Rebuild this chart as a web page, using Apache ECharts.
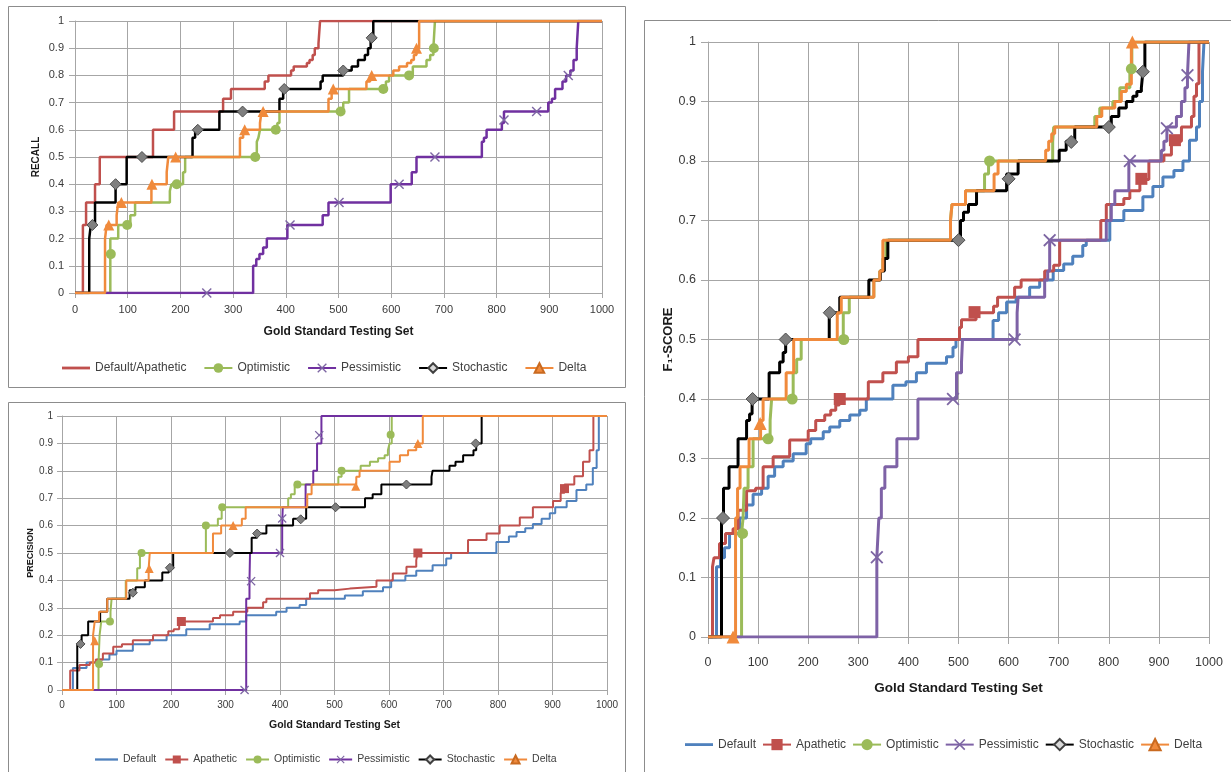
<!DOCTYPE html>
<html><head><meta charset="utf-8">
<script src="https://cdn.jsdelivr.net/npm/echarts@6/dist/echarts.min.js"></script>
<style>html,body{margin:0;padding:0;background:#fff}#c{width:1231px;height:772px}</style>
</head><body><div id="c"></div>
<script>
// ---------- tick labels ----------
const xTickValues = [0,100,200,300,400,500,600,700,800,900,1000];
const yTickLabels = ['0','0.1','0.2','0.3','0.4','0.5','0.6','0.7','0.8','0.9','1'];

// ---------- RECALL panel ([x, y] = at x the curve steps to y) ----------
const recallDefaultApathetic = [[0,0],[15,0.25],[21,0.333],[38,0.4],[47,0.5],[148,0.6],[188,0.667],[281,0.714],[296,0.75],[360,0.778],[367,0.8],[410,0.818],[415,0.833],[440,0.846],[445,0.857],[451,0.875],[455,0.9],[462,0.917],[465,1],[1000,1]];
const recallOptimistic = [[0,0],[67,0.2],[82,0.25],[105,0.286],[114,0.333],[180,0.375],[183,0.4],[205,0.444],[209,0.5],[345,0.556],[348,0.571],[351,0.6],[384,0.625],[388,0.667],[509,0.7],[520,0.75],[590,0.778],[596,0.8],[641,0.833],[667,0.857],[674,0.875],[680,0.9],[683,1],[1000,1]];
const recallOptimisticMarks = [[68,0.143],[99,0.25],[193,0.4],[342,0.5],[381,0.6],[504,0.667],[585,0.75],[634,0.8],[681,0.9]];
const recallPessimistic = [[0,0],[338,0.1],[344,0.125],[350,0.143],[357,0.167],[364,0.2],[403,0.25],[470,0.286],[481,0.333],[599,0.4],[639,0.444],[648,0.5],[772,0.556],[776,0.571],[781,0.6],[810,0.625],[814,0.667],[898,0.7],[905,0.714],[911,0.75],[925,0.778],[932,0.8],[940,0.818],[946,0.857],[952,0.9],[955,1],[1000,1]];
const recallPessimisticMarks = [[250,0],[408,0.25],[501,0.333],[615,0.4],[683,0.5],[814,0.636],[876,0.667],[936,0.8]];
const recallStochastic = [[0,0],[27,0.2],[30,0.25],[38,0.333],[77,0.4],[98,0.5],[223,0.571],[228,0.6],[274,0.667],[388,0.714],[395,0.75],[466,0.778],[470,0.8],[509,0.818],[525,0.833],[537,0.857],[550,0.875],[556,0.9],[561,0.938],[566,1],[1000,1]];
const recallStochasticMarks = [[33,0.25],[77,0.4],[127,0.5],[233,0.6],[318,0.667],[397,0.75],[509,0.818],[563,0.938]];
const recallDelta = [[0,0],[57,0.2],[60,0.25],[79,0.286],[82,0.333],[145,0.4],[174,0.444],[177,0.5],[313,0.571],[319,0.6],[351,0.625],[354,0.667],[481,0.714],[487,0.75],[553,0.778],[560,0.8],[604,0.818],[615,0.833],[630,0.846],[638,0.857],[643,0.875],[648,0.9],[653,1],[1000,1]];
const recallDeltaMarks = [[64,0.25],[88,0.333],[146,0.4],[191,0.5],[322,0.6],[357,0.667],[490,0.75],[563,0.8],[648,0.9]];

// ---------- PRECISION panel ----------
const precDefault = [[0,0],[20,0.08],[45,0.1],[65,0.111],[87,0.13],[100,0.143],[130,0.167],[161,0.182],[192,0.2],[228,0.222],[271,0.24],[326,0.25],[338,0.273],[393,0.286],[412,0.3],[436,0.31],[448,0.333],[519,0.345],[552,0.36],[589,0.375],[604,0.4],[630,0.417],[650,0.435],[680,0.455],[705,0.48],[714,0.5],[797,0.54],[820,0.56],[834,0.577],[850,0.59],[864,0.606],[880,0.625],[895,0.645],[905,0.667],[926,0.69],[944,0.73],[962,0.75],[974,0.81],[981,0.875],[985,1],[1000,1]];
const precApathetic = [[0,0],[15,0.071],[32,0.091],[51,0.1],[62,0.111],[75,0.133],[94,0.158],[110,0.167],[130,0.182],[167,0.2],[195,0.214],[205,0.222],[215,0.25],[277,0.263],[290,0.273],[314,0.286],[340,0.3],[369,0.32],[375,0.333],[455,0.353],[470,0.364],[500,0.37],[528,0.377],[577,0.4],[607,0.425],[632,0.45],[650,0.474],[653,0.5],[745,0.547],[779,0.571],[803,0.6],[840,0.63],[864,0.667],[901,0.69],[915,0.72],[922,0.75],[940,0.78],[956,0.833],[968,0.875],[975,1],[1000,1]];
const precApatheticMarks = [[219,0.25],[653,0.5],[922,0.735]];
const precOptimistic = [[0,0],[67,0.1],[69,0.2],[72,0.25],[89,0.286],[91,0.333],[117,0.4],[138,0.444],[143,0.5],[264,0.6],[286,0.625],[293,0.667],[415,0.7],[420,0.714],[427,0.75],[507,0.778],[513,0.8],[548,0.818],[565,0.833],[580,0.846],[592,0.857],[598,0.875],[601,0.9],[605,1],[1000,1]];
const precOptimisticMarks = [[68,0.095],[88,0.25],[146,0.5],[264,0.6],[294,0.667],[432,0.75],[513,0.8],[603,0.932]];
const precPessimistic = [[0,0],[338,0.333],[344,0.4],[345,0.5],[404,0.6],[405,0.667],[447,0.75],[461,0.8],[468,0.9],[476,1],[1000,1]];
const precPessimisticMarks = [[335,0],[347,0.397],[400,0.5],[404,0.626],[472,0.93]];
const precStochastic = [[0,0],[28,0.167],[36,0.2],[48,0.25],[70,0.286],[83,0.333],[124,0.364],[135,0.375],[152,0.4],[184,0.429],[196,0.444],[204,0.5],[348,0.556],[358,0.571],[375,0.6],[424,0.625],[448,0.667],[556,0.7],[570,0.714],[586,0.75],[678,0.778],[680,0.8],[711,0.818],[722,0.833],[736,0.857],[755,0.875],[760,0.9],[770,1],[1000,1]];
const precStochasticMarks = [[34,0.168],[130,0.355],[198,0.446],[308,0.5],[358,0.571],[438,0.623],[502,0.667],[632,0.75],[759,0.9]];
const precDelta = [[0,0],[57,0.2],[60,0.25],[68,0.286],[83,0.333],[118,0.4],[159,0.444],[161,0.5],[277,0.571],[292,0.6],[330,0.625],[337,0.667],[450,0.714],[458,0.75],[540,0.778],[546,0.8],[601,0.833],[620,0.857],[635,0.875],[650,0.9],[662,1],[1000,1]];
const precDeltaMarks = [[60,0.18],[160,0.443],[314,0.6],[539,0.744],[653,0.9]];

// ---------- F1-SCORE panel ----------
const f1Default = [[0,0],[17,0.118],[25,0.133],[33,0.15],[43,0.174],[63,0.2],[77,0.222],[90,0.24],[107,0.25],[120,0.27],[133,0.286],[150,0.296],[170,0.308],[196,0.325],[205,0.333],[230,0.345],[243,0.353],[263,0.364],[283,0.373],[303,0.381],[316,0.4],[369,0.423],[395,0.429],[416,0.444],[436,0.46],[476,0.471],[489,0.487],[495,0.5],[569,0.532],[580,0.545],[596,0.563],[615,0.571],[642,0.588],[662,0.6],[689,0.616],[710,0.627],[728,0.64],[748,0.658],[755,0.667],[802,0.7],[830,0.717],[868,0.74],[888,0.757],[908,0.773],[930,0.784],[948,0.8],[961,0.835],[975,0.857],[981,0.9],[987,0.95],[990,1],[1000,1]];
const f1Apathetic = [[0,0],[9,0.118],[12,0.133],[23,0.157],[35,0.174],[50,0.182],[60,0.213],[77,0.246],[95,0.25],[110,0.286],[130,0.303],[163,0.331],[200,0.347],[215,0.364],[233,0.373],[245,0.381],[255,0.39],[262,0.4],[320,0.429],[349,0.444],[376,0.462],[400,0.471],[419,0.5],[502,0.52],[506,0.533],[535,0.545],[570,0.556],[578,0.571],[612,0.588],[625,0.6],[672,0.615],[690,0.625],[702,0.667],[784,0.7],[795,0.727],[830,0.737],[842,0.75],[862,0.769],[880,0.8],[910,0.81],[925,0.833],[945,0.857],[965,0.875],[970,0.909],[975,0.93],[980,1],[1000,1]];
const f1ApatheticMarks = [[263,0.4],[532,0.546],[865,0.77],[932,0.835]];
const f1Optimistic = [[0,0],[67,0.174],[70,0.2],[72,0.25],[80,0.286],[90,0.333],[124,0.364],[127,0.4],[170,0.444],[177,0.467],[186,0.5],[270,0.545],[282,0.571],[331,0.6],[343,0.615],[349,0.636],[355,0.667],[484,0.7],[487,0.727],[514,0.75],[552,0.778],[560,0.8],[688,0.833],[690,0.857],[772,0.875],[782,0.889],[808,0.9],[822,0.923],[842,0.947],[846,1],[1000,1]];
const f1OptimisticMarks = [[69,0.174],[120,0.333],[168,0.4],[271,0.5],[562,0.8],[845,0.955]];
const f1Pessimistic = [[0,0],[337,0.134],[339,0.167],[341,0.2],[346,0.25],[353,0.286],[377,0.333],[419,0.4],[496,0.444],[506,0.462],[508,0.5],[617,0.545],[619,0.571],[672,0.6],[678,0.615],[682,0.667],[795,0.7],[805,0.727],[812,0.75],[840,0.8],[905,0.818],[910,0.833],[916,0.857],[935,0.875],[945,0.9],[952,0.923],[957,0.944],[960,1],[1000,1]];
const f1PessimisticMarks = [[337,0.134],[489,0.4],[612,0.5],[682,0.667],[842,0.8],[916,0.855],[957,0.944]];
const f1Stochastic = [[0,0],[27,0.2],[31,0.25],[42,0.286],[60,0.333],[77,0.364],[83,0.375],[88,0.4],[122,0.444],[143,0.462],[150,0.478],[155,0.5],[242,0.545],[263,0.571],[321,0.6],[344,0.615],[352,0.636],[359,0.667],[504,0.7],[510,0.714],[520,0.727],[536,0.75],[596,0.778],[619,0.8],[701,0.818],[715,0.833],[732,0.857],[805,0.875],[820,0.889],[835,0.9],[848,0.909],[856,0.917],[865,0.923],[868,0.95],[872,1],[1000,1]];
const f1StochasticMarks = [[30,0.2],[89,0.4],[155,0.5],[243,0.545],[500,0.667],[600,0.77],[725,0.832],[800,0.857],[868,0.95]];
const f1Delta = [[0,0],[55,0.2],[59,0.25],[64,0.286],[82,0.333],[105,0.364],[110,0.4],[156,0.444],[171,0.5],[258,0.545],[266,0.571],[331,0.6],[343,0.615],[349,0.667],[484,0.7],[487,0.727],[514,0.75],[571,0.778],[579,0.8],[674,0.818],[680,0.833],[686,0.846],[692,0.857],[776,0.875],[786,0.889],[812,0.9],[825,0.917],[835,0.929],[845,1],[1000,1]];
const f1DeltaMarks = [[50,0],[104,0.359],[847,1]];

// ---------- styling ----------
const FONT = 'Liberation Sans, Arial, sans-serif';
const C = {red:'#C0504D', blue:'#4F81BD', green:'#9BBB59', purple:'#7030A0', purpleF:'#7E62A6', black:'#000000', orange:'#F08A3C'};
const X_PATH = 'path://M1,0L5,4L9,0L10,1L6,5L10,9L9,10L5,6L1,10L0,9L4,5L0,1Z';
const LINE_ICON = 'path://M0,0h40v4h-40z';
const STYLE = {
  default:    {symbol:'none'},
  apathetic:  {symbol:'rect', item:{color:C.red}, mark:{color:C.red}},
  optimistic: {symbol:'circle', item:{color:C.green}, mark:{color:C.green}},
  pessimistic:{symbol:X_PATH, item:{color:'#7d66a3'}, mark:{color:'#7d66a3'}},
  stochastic: {symbol:'diamond', item:{color:'#d9d9d9', borderColor:'#404040', borderWidth:1}, mark:{color:'#7f7f7f', borderColor:'#4d4d4d', borderWidth:1}},
  delta:      {symbol:'triangle', item:{color:C.orange, borderColor:'#c96a20', borderWidth:1}, mark:{color:C.orange}}
};

function mk(name, idx, color, width, kind, data, marks, msize) {
  const st = STYLE[kind];
  const s = {
    type:'line', name: name, xAxisIndex: idx, yAxisIndex: idx, data: data, step:'end',
    symbol: st.symbol, showSymbol:false, symbolSize: msize, symbolKeepAspect:true,
    lineStyle:{color: color, width: width}, itemStyle: Object.assign({color: color}, st.item || {}),
    emphasis:{disabled:true}, silent:true, animation:false
  };
  if (marks) {
    s.markPoint = {symbol: st.symbol, symbolSize: msize, symbolKeepAspect:true, silent:true, animation:false,
      label:{show:false}, itemStyle: st.mark, data: marks.map(m => ({coord: m}))};
  }
  return s;
}

const series = [
  mk('Default/Apathetic|r',0,C.red,2.5,'default',recallDefaultApathetic,null,10),
  mk('Optimistic|r',0,C.green,2.5,'optimistic',recallOptimistic,recallOptimisticMarks,10),
  mk('Pessimistic|r',0,C.purple,2.5,'pessimistic',recallPessimistic,recallPessimisticMarks,10),
  mk('Stochastic|r',0,C.black,2.5,'stochastic',recallStochastic,recallStochasticMarks,11),
  mk('Delta|r',0,C.orange,2.5,'delta',recallDelta,recallDeltaMarks,11),

  mk('Default|p',1,C.blue,2,'default',precDefault,null,9),
  mk('Apathetic|p',1,C.red,2,'apathetic',precApathetic,precApatheticMarks,9),
  mk('Optimistic|p',1,C.green,2,'optimistic',precOptimistic,precOptimisticMarks,8),
  mk('Pessimistic|p',1,C.purple,2,'pessimistic',precPessimistic,precPessimisticMarks,9),
  mk('Stochastic|p',1,C.black,2,'stochastic',precStochastic,precStochasticMarks,9),
  mk('Delta|p',1,C.orange,2,'delta',precDelta,precDeltaMarks,9),

  mk('Default|f',2,C.blue,3,'default',f1Default,null,12),
  mk('Apathetic|f',2,C.red,3,'apathetic',f1Apathetic,f1ApatheticMarks,12),
  mk('Optimistic|f',2,C.green,3,'optimistic',f1Optimistic,f1OptimisticMarks,11),
  mk('Pessimistic|f',2,C.purpleF,3,'pessimistic',f1Pessimistic,f1PessimisticMarks,13),
  mk('Stochastic|f',2,C.black,3,'stochastic',f1Stochastic,f1StochasticMarks,13),
  mk('Delta|f',2,C.orange,3,'delta',f1Delta,f1DeltaMarks,13)
];

const GRID_C = '#a6a6a6';
function xAx(idx, fs, margin, nameFs, nameGap, tickLen) {
  return {type:'value', gridIndex:idx, min:0, max:1000, interval:100,
    name:'Gold Standard Testing Set', nameLocation:'middle', nameGap:nameGap,
    nameTextStyle:{fontFamily:FONT, fontWeight:'bold', fontSize:nameFs, color:'#1a1a1a'},
    axisLine:{show:true, lineStyle:{color:GRID_C}}, axisTick:{show:true, length:tickLen, lineStyle:{color:GRID_C}},
    axisLabel:{fontFamily:FONT, fontSize:fs, color:'#3a3a3a', margin:margin, showMinLabel:true, showMaxLabel:true,
      formatter: v => String(xTickValues[Math.round(v/100)])},
    splitLine:{show:true, lineStyle:{color:GRID_C, width:1}}};
}
function yAx(idx, name, fs, margin, nameFs, nameGap, tickLen) {
  return {type:'value', gridIndex:idx, min:0, max:1, interval:0.1,
    name:name, nameLocation:'middle', nameRotate:90, nameGap:nameGap,
    nameTextStyle:{fontFamily:FONT, fontWeight:'bold', fontSize:nameFs, color:'#1a1a1a'},
    axisLine:{show:true, lineStyle:{color:GRID_C}}, axisTick:{show:true, length:tickLen, lineStyle:{color:GRID_C}},
    axisLabel:{fontFamily:FONT, fontSize:fs, color:'#3a3a3a', margin:margin,
      formatter: v => yTickLabels[Math.round(v*10)]},
    splitLine:{show:true, lineStyle:{color:GRID_C, width:1}}};
}
function lg(names, left, top, iw, ih, gap, fs) {
  return {data: names.map(n => n.indexOf('Default') === 0 ? {name:n, icon:LINE_ICON} : n),
    left:left, top:top, padding:0, itemWidth:iw, itemHeight:ih, itemGap:gap,
    selectedMode:false, formatter: n => n.split('|')[0],
    textStyle:{fontFamily:FONT, fontSize:fs, color:'#404040'}};
}

const chart = echarts.init(document.getElementById('c'), null, {renderer:'canvas'});
chart.setOption({
  animation:false,
  backgroundColor:'#ffffff',
  graphic:[
    {type:'rect', shape:{x:8.5,y:6.5,width:617,height:381}, style:{fill:'none', stroke:'#8c8c8c', lineWidth:1}, silent:true, z:-1},
    {type:'rect', shape:{x:8.5,y:402.5,width:617,height:380}, style:{fill:'none', stroke:'#8c8c8c', lineWidth:1}, silent:true, z:-1},
    {type:'rect', shape:{x:644.5,y:20.5,width:600,height:760}, style:{fill:'none', stroke:'#8c8c8c', lineWidth:1}, silent:true, z:-1}
  ],
  grid:[
    {left:75, top:21, width:527, height:272, containLabel:false, outerBoundsMode:'none'},
    {left:62, top:416, width:545, height:274, containLabel:false, outerBoundsMode:'none'},
    {left:708, top:42, width:501, height:595, containLabel:false, outerBoundsMode:'none'}
  ],
  xAxis:[ xAx(0,11,11,12,33,5), xAx(1,10,10,10.5,30,5), xAx(2,12.5,19,13.5,44,7) ],
  yAxis:[ yAx(0,'RECALL',11,11,10,34,6), yAx(1,'PRECISION',10,9,9,27,5), yAx(2,'F\u2081-SCORE',12.5,12,13,33,7) ],
  legend:[
    lg(['Default/Apathetic|r','Optimistic|r','Pessimistic|r','Stochastic|r','Delta|r'],62,362,28,12,17,12),
    lg(['Default|p','Apathetic|p','Optimistic|p','Pessimistic|p','Stochastic|p','Delta|p'],95,754,23,10,8,10.5),
    lg(['Default|f','Apathetic|f','Optimistic|f','Pessimistic|f','Stochastic|f','Delta|f'],685,738,28,14,6,12)
  ],
  series: series
});
</script>
</body></html>
